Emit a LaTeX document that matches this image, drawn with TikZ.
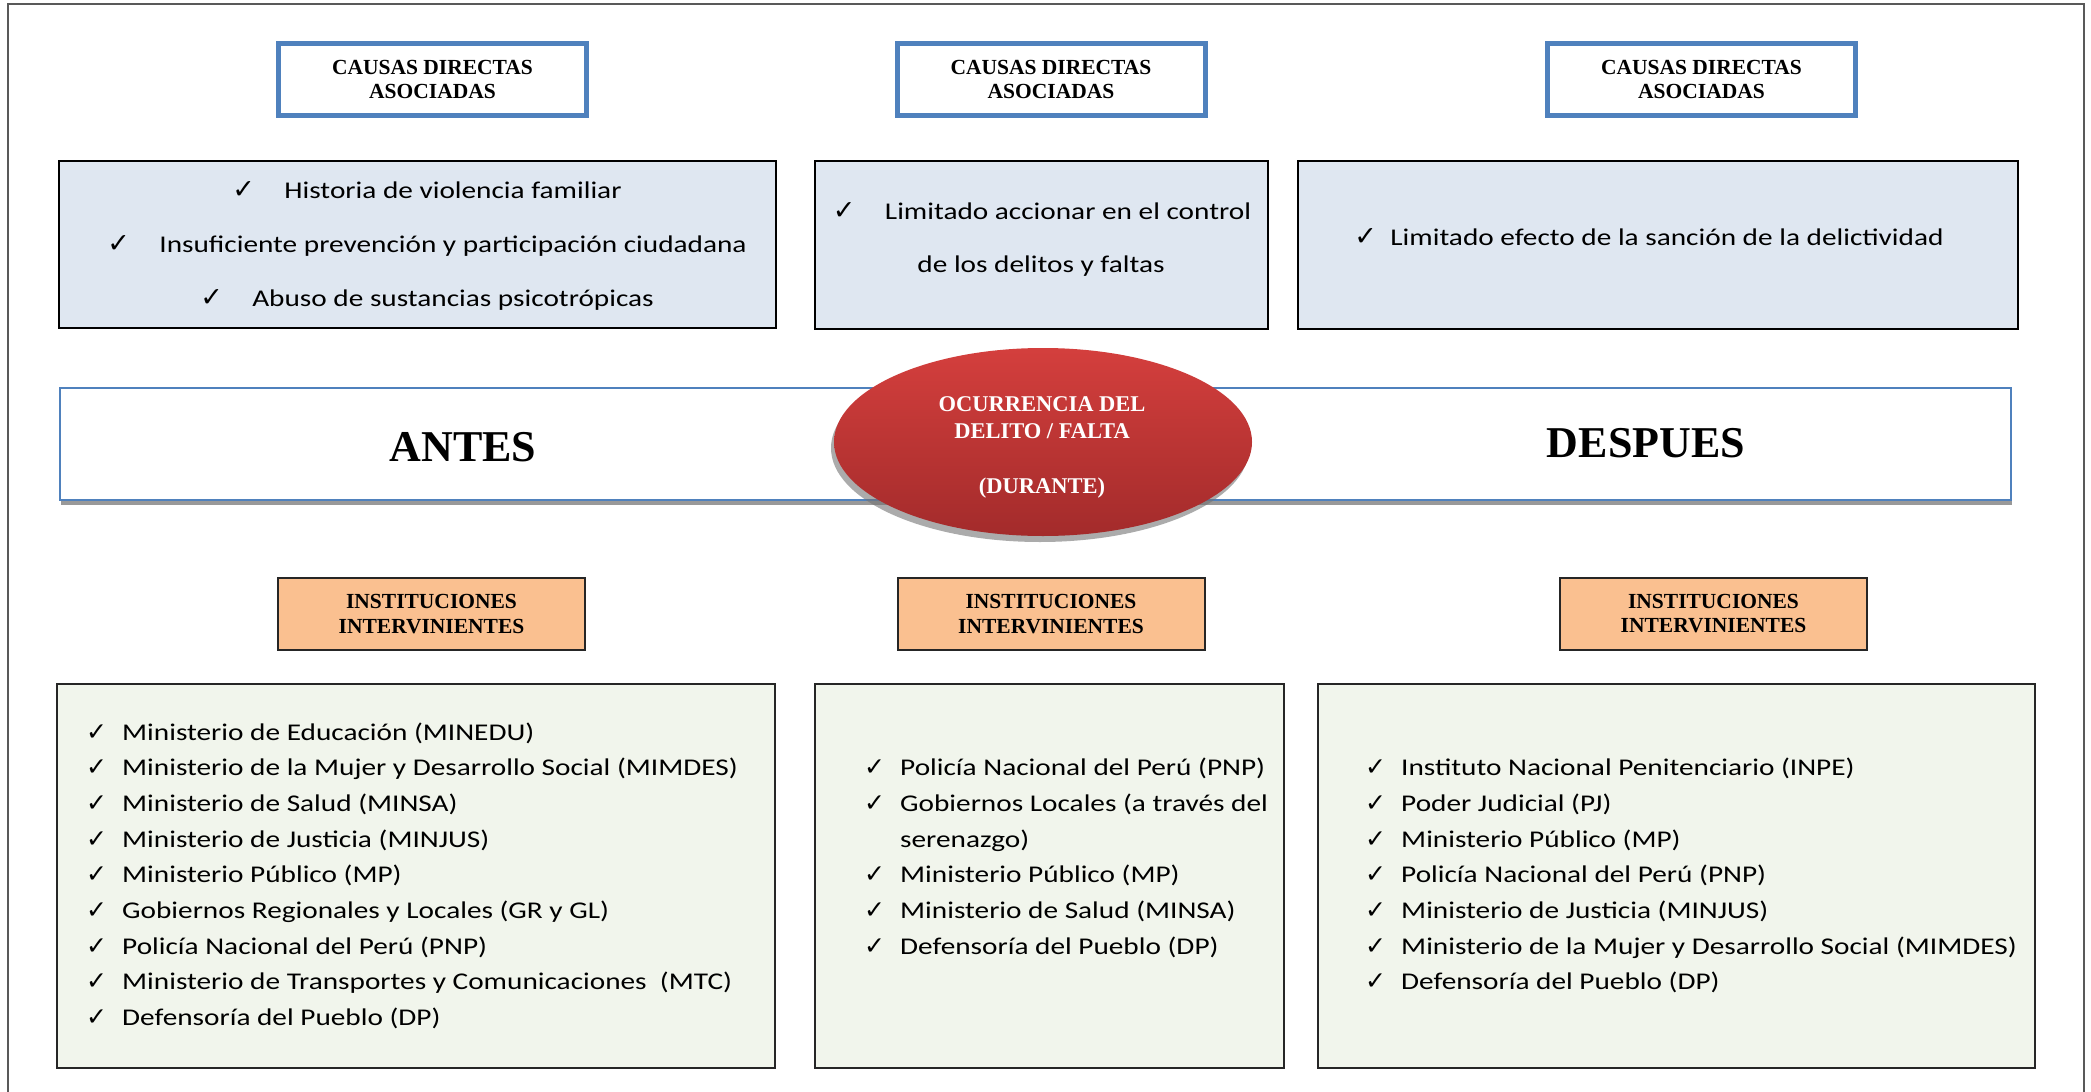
\documentclass[tikz,border=0pt]{standalone}
\usepackage{fontspec}
\setmainfont[FakeStretch=1.22]{Carlito}
\newfontfamily\serifb{Liberation Serif}
\newfontfamily\chkfont{DejaVu Sans}
\usetikzlibrary{shapes.geometric,shadows}
\definecolor{bluebd}{HTML}{4F81BD}
\definecolor{causefill}{HTML}{DFE7F1}
\definecolor{listfill}{HTML}{F1F5EC}
\definecolor{orangef}{HTML}{FAC090}
\definecolor{redtop}{HTML}{D43F3D}
\definecolor{redbot}{HTML}{A32B2B}
\newcommand\ckw[1]{\makebox[#1][l]{\chkfont\fontsize{27}{27}\selectfont ✓}}
\newcommand\ckl{\makebox[36pt][l]{\chkfont\fontsize{25}{25}\selectfont ✓}}
\begin{document}
\begin{tikzpicture}[x=1pt,y=-1pt,
  hdrbox/.style={draw=bluebd,line width=5pt,fill=white,minimum width=308pt,minimum height=72pt,inner sep=0pt,align=center,font=\serifb\bfseries\fontsize{21.5}{24.5}\selectfont},
  instbox/.style={draw=black!85,line width=2pt,fill=orangef,minimum width=307pt,minimum height=72pt,inner sep=0pt,align=center,font=\serifb\bfseries\fontsize{21.5}{24.5}\selectfont},
  causebox/.style={draw=black,line width=2pt,fill=causefill,inner sep=0pt},
  listbox/.style={draw=black!85,line width=2pt,fill=listfill,inner sep=0pt},
  ctext/.style={anchor=base,inner sep=0pt,font=\fontsize{24}{28}\selectfont},
  ltext/.style={anchor=base west,inner sep=0pt,font=\fontsize{24}{28}\selectfont},
  bigword/.style={anchor=base,inner sep=0pt,font=\serifb\bfseries\fontsize{44}{48}\selectfont},
]
\useasboundingbox (0,0) rectangle (2091,1092);
\fill[white] (0,0) rectangle (2091,1092);
% page frame
\draw[black!65,line width=1.5pt] (8,1092) -- (8,4) -- (2084,4) -- (2084,1092);

% header boxes
\node[hdrbox] (hb1) at (432.5,79.5) {CAUSAS DIRECTAS\\ASOCIADAS};
\node[hdrbox] (hb2) at (1051,79.5) {CAUSAS DIRECTAS\\ASOCIADAS};
\node[hdrbox] (hb3) at (1701.5,79.5) {CAUSAS DIRECTAS\\ASOCIADAS};

% cause boxes
\node[causebox,minimum width=717pt,minimum height=167pt] (cb1) at (417.5,244.5) {};
\node[causebox,minimum width=453pt,minimum height=168pt] (cb2) at (1041.5,245) {};
\node[causebox,minimum width=720pt,minimum height=168pt] (cb3) at (1658,245) {};

\node[ctext] (c1a) at (427,198) {\ckw{52pt}Historia de violencia familiar};
\node[ctext] (c1b) at (427,252) {\ckw{52pt}Insuficiente prevención y participación ciudadana};
\node[ctext] (c1c) at (427,306) {\ckw{52pt}Abuso de sustancias psicotrópicas};
\node[ctext] (c2a) at (1042,219) {\ckw{52pt}Limitado accionar en el control};
\node[ctext] (c2b) at (1041,272) {de los delitos y faltas};
\node[ctext] (c3a) at (1649,245) {\ckw{36pt}Limitado efecto de la sanción de la delictividad};

% band
\draw[black!40,line width=3.5pt] (61,503) -- (2012,503);
\node[draw=bluebd,line width=2pt,fill=white,minimum width=1951pt,minimum height=112pt,inner sep=0pt] (band) at (1035.5,444) {};
\node[bigword] (antes) at (463,461) {ANTES};
\node[bigword] (despues) at (1646,457) {DESPUES};

% ellipse
\node[ellipse,minimum width=418pt,minimum height=188pt,inner sep=0pt,
      top color=redtop,bottom color=redbot,draw=none,
      drop shadow={shadow xshift=-3pt,shadow yshift=-6pt,fill=black!55,opacity=.6}] (occ) at (1043,442) {};
\node[align=center,inner sep=0pt,text=white,font=\serifb\bfseries\fontsize{22.5}{27}\selectfont] (occt) at (1042,447.6) {OCURRENCIA DEL\\DELITO / FALTA\\[28pt](DURANTE)};

% institution headers
\node[instbox] (ib1) at (431.5,614) {INSTITUCIONES\\INTERVINIENTES};
\node[instbox] (ib2) at (1051,614) {INSTITUCIONES\\INTERVINIENTES};
\node[instbox] (ib3) at (1713.5,613.5) {INSTITUCIONES\\INTERVINIENTES};

% list boxes
\node[listbox,minimum width=718pt,minimum height=384pt] (lb1) at (416,876) {};
\node[listbox,minimum width=469pt,minimum height=384pt] (lb2) at (1049.5,876) {};
\node[listbox,minimum width=717pt,minimum height=384pt] (lb3) at (1676.5,876) {};

\foreach \t [count=\i] in {{Ministerio de Educación (MINEDU)},
  {Ministerio de la Mujer y Desarrollo Social (MIMDES)},
  {Ministerio de Salud (MINSA)},
  {Ministerio de Justicia (MINJUS)},
  {Ministerio Público (MP)},
  {Gobiernos Regionales y Locales (GR y GL)},
  {Policía Nacional del Perú (PNP)},
  {Ministerio de Transportes y Comunicaciones\ \ (MTC)},
  {Defensoría del Pueblo (DP)}}
  \node[ltext] (la\i) at (86,{740+(\i-1)*35.7}) {\ckl\t};

\foreach \t [count=\i] in {{\ckl Policía Nacional del Perú (PNP)},
  {\ckl Gobiernos Locales (a través del},
  {\makebox[36pt]{}serenazgo)},
  {\ckl Ministerio Público (MP)},
  {\ckl Ministerio de Salud (MINSA)},
  {\ckl Defensoría del Pueblo (DP)}}
  \node[ltext] (lm\i) at (864,{775.7+(\i-1)*35.7}) {\t};

\foreach \t [count=\i] in {{Instituto Nacional Penitenciario (INPE)},
  {Poder Judicial (PJ)},
  {Ministerio Público (MP)},
  {Policía Nacional del Perú (PNP)},
  {Ministerio de Justicia (MINJUS)},
  {Ministerio de la Mujer y Desarrollo Social (MIMDES)},
  {Defensoría del Pueblo (DP)}}
  \node[ltext] (lr\i) at (1365,{775.7+(\i-1)*35.7}) {\ckl\t};
\end{tikzpicture}
\end{document}
